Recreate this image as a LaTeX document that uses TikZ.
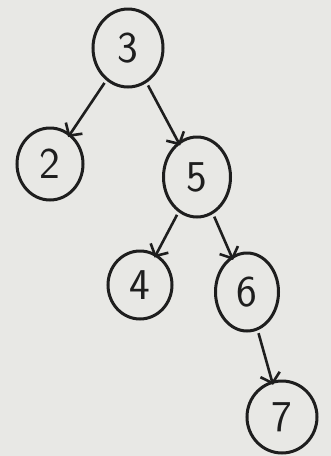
\documentclass[tikz,border=0pt]{standalone}
\usepackage{tikz}
\usetikzlibrary{shapes.geometric, arrows.meta, positioning}
\definecolor{paper}{RGB}{232,232,229}
\definecolor{ink}{RGB}{30,30,30}
\tikzset{
  tnode/.style={ellipse, draw=ink, line width=3pt, text=ink,
                font=\sffamily\fontsize{44}{44}\selectfont,
                minimum width=64pt, minimum height=74pt, inner sep=0pt},
  edge/.style={-{Straight Barb[length=9pt, width=20pt, line width=2.6pt]},
               draw=ink, line width=2.6pt, shorten <=3pt, shorten >=-4pt},
}

\begin{document}
\begin{tikzpicture}[x=1pt, y=-1pt, on grid]
  \fill[paper] (0,0) rectangle (331,456);
  \useasboundingbox (0,0) rectangle (331,456);

  \node[tnode, minimum width=70pt, minimum height=78pt] (three) at (128,48) {3};
  \node[tnode, minimum width=66pt, minimum height=72pt, below left=116pt and 78pt of three] (two) {2};
  \node[tnode, minimum width=67pt, minimum height=80pt, below right=129pt and 69pt of three] (five) {5};
  \node[tnode, minimum width=64pt, minimum height=68pt, below left=108pt and 57pt of five] (four) {4};
  \node[tnode, minimum width=63pt, minimum height=78pt, below right=115pt and 50pt of five] (six) {6};
  \node[tnode, minimum width=70pt, minimum height=72pt, below right=125pt and 35pt of six] (seven) {7};

  \draw[edge] (three) -- (two);
  \draw[edge] (three) -- (five);
  \draw[edge] (five) -- (four);
  \draw[edge] (five) -- (six);
  \draw[edge] (six) -- (seven);
\end{tikzpicture}
\end{document}
